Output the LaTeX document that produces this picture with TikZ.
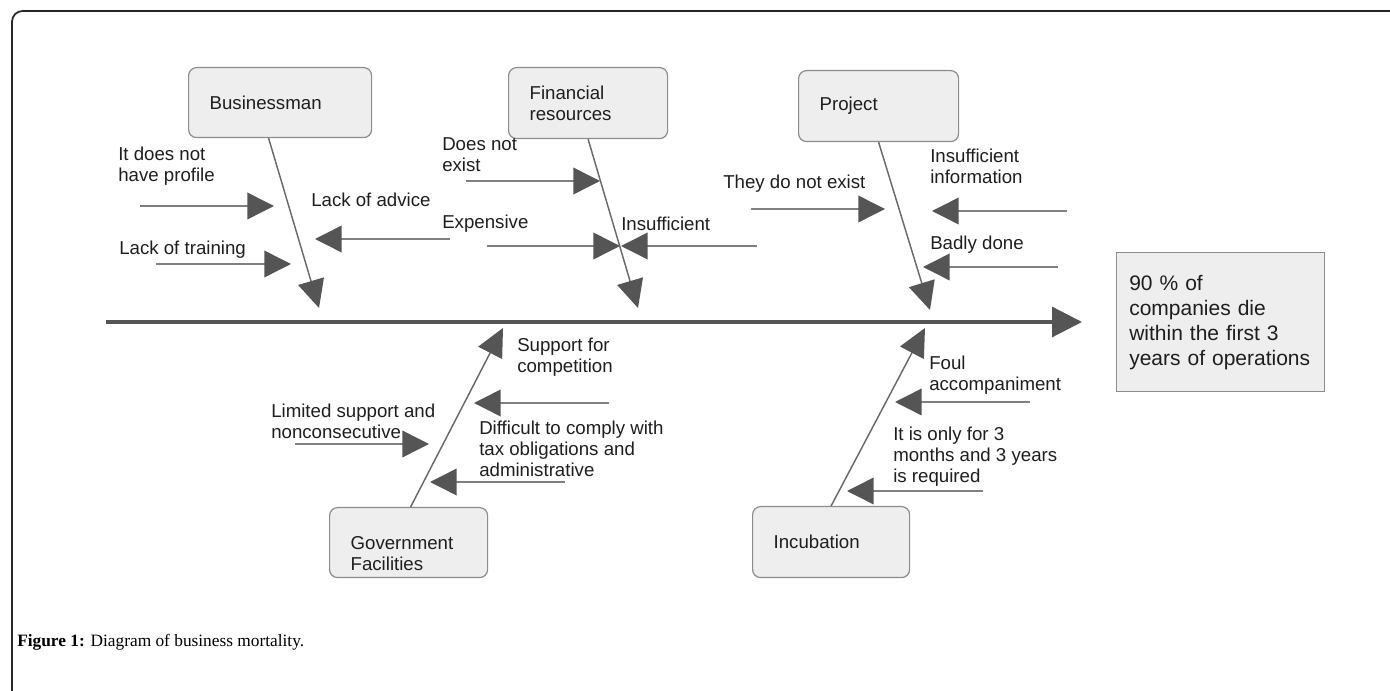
\documentclass[tikz,border=0pt]{standalone}
\usepackage{fontspec}
\setmainfont{Liberation Serif}
\newfontfamily\diagsans{Liberation Sans}
\usetikzlibrary{arrows.meta,calc}
\definecolor{boxfill}{HTML}{EEEEEE}
\definecolor{boxline}{HTML}{8C8C8C}
\definecolor{linegray}{HTML}{808080}
\definecolor{bonegray}{HTML}{6A6A6A}
\definecolor{headgray}{HTML}{555555}
\definecolor{txtcol}{HTML}{1E1E1E}
\newcommand\lblfont{\diagsans\fontsize{14}{15.75}\selectfont}
\newcommand\efffont{\diagsans\fontsize{15.75}{18.75}\selectfont}
\begin{document}
\begin{tikzpicture}[x=0.75pt,y=-0.75pt,
  causebox/.style={draw=boxline, fill=boxfill, rounded corners=6pt, line width=0.9pt,
    align=left, inner xsep=15.75pt, inner ysep=0pt, font=\lblfont, text=txtcol, anchor=north west},
  lbl/.style={align=left, inner sep=0pt, font=\lblfont, text=txtcol, anchor=west},
  cause/.style={draw=linegray, line width=1.1pt, -{Triangle[length=20pt,width=20pt,color=headgray]}},
  bone/.style={draw=bonegray, line width=1.1pt, -{Triangle[length=21pt,width=20pt,color=headgray]}},
  spine/.style={draw=headgray, line width=2.4pt, -{Triangle[length=22.5pt,width=22.5pt]}}]
\useasboundingbox (0,0) rectangle (1390,691);
% frame
\draw[line width=1.3pt, draw=black!85, rounded corners=8pt] (12,700) -- (12,11) -- (1400,11);

% category boxes
\node[causebox, text width=105.75pt, minimum height=52.5pt] (bm) at (188,67) {Businessman};
\node[causebox, text width=87.75pt, minimum height=53.25pt] (fr) at (508,67) {Financial\\resources};
\node[causebox, text width=88.5pt, minimum height=53.25pt] (pj) at (798,70) {Project};
\node[causebox, text width=87pt, minimum height=52.5pt, text depth=-8pt] (gv) at (329,507) {Government\\Facilities};
\node[causebox, text width=86.25pt, minimum height=53.25pt] (ib) at (752,506) {Incubation};

% effect box
\node[draw=boxline, fill=boxfill, line width=0.9pt, align=left, font=\efffont, text=txtcol,
  text width=137pt, inner xsep=9.5pt, minimum height=104.25pt, anchor=north west]
  (eff) at (1116,252) {90 \% of\\companies die\\within the first 3\\years of operations};

% spine
\coordinate (sp0) at (106,322);
\draw[spine, shorten >=25.5pt] (sp0) -- (eff.west |- sp0);

% bone tips
\coordinate (bmtip) at (319,308);
\coordinate (frtip) at (638,308);
\coordinate (pjtip) at (930,310);
\coordinate (gvtip) at (503,328);
\coordinate (ibtip) at (925,328);
\draw[bone] ($(bm.south)+(-11.5,0)$) -- (bmtip);
\draw[bone] (fr.south) -- (frtip);
\draw[bone] (pj.south) -- (pjtip);
\draw[bone] ($(gv.north)+(2,0)$) -- (gvtip);
\draw[bone] (ib.north) -- (ibtip);

% labels
\node[lbl] (l1) at (118,166.5) {It does not\\have profile};
\node[lbl] (l2) at (119,250) {Lack of training};
\node[lbl] (l3) at (311,200) {Lack of advice};
\node[lbl] (l4) at (442,154.5) {Does not\\exist};
\node[lbl] (l5) at (442,224) {Expensive};
\node[lbl] (l6) at (621,224) {Insufficient};
\node[lbl] (l7) at (723,184) {They do not exist};
\node[lbl] (l8) at (930,166.5) {Insufficient\\information};
\node[lbl] (l9) at (930,245) {Badly done};
\node[lbl] (l10) at (517,357.5) {Support for\\competition};
\node[lbl] (l11) at (271,421.5) {Limited support and\\nonconsecutive};
\node[lbl] (l12) at (479,449) {Difficult to comply with\\tax obligations and\\administrative};
\node[lbl] (l13) at (929,375.5) {Foul\\accompaniment};
\node[lbl] (l14) at (893,457) {It is only for 3\\months and 3 years\\is required};

% cause arrows
\coordinate (a1s) at (140,206); \coordinate (a1e) at (274,206);
\coordinate (a2s) at (156,264); \coordinate (a2e) at (291,264);
\coordinate (a3s) at (450,239); \coordinate (a3e) at (315,239);
\coordinate (a4s) at (466,181); \coordinate (a4e) at (600,181);
\coordinate (a5s) at (487,246); \coordinate (a5e) at (620,246);
\coordinate (a6s) at (757,246); \coordinate (a6e) at (621,246);
\coordinate (a7s) at (751,209); \coordinate (a7e) at (885,209);
\coordinate (a8s) at (1067,211); \coordinate (a8e) at (932,211);
\coordinate (a9s) at (1058,267); \coordinate (a9e) at (923,267);
\coordinate (a10s) at (609,403); \coordinate (a10e) at (474,403);
\coordinate (a11s) at (295,444); \coordinate (a11e) at (429,444);
\coordinate (a12s) at (565,482); \coordinate (a12e) at (430,482);
\coordinate (a13s) at (1030,402); \coordinate (a13e) at (895,402);
\coordinate (a14s) at (983,491); \coordinate (a14e) at (847,491);
\foreach \i in {1,...,14} {\draw[cause] (a\i s) -- (a\i e);}

% caption
\node[anchor=west, inner sep=0pt, font=\fontsize{13}{15}\selectfont] (cap) at (17,642)
  {\textbf{Figure 1:} Diagram of business mortality.};
\end{tikzpicture}
\end{document}
